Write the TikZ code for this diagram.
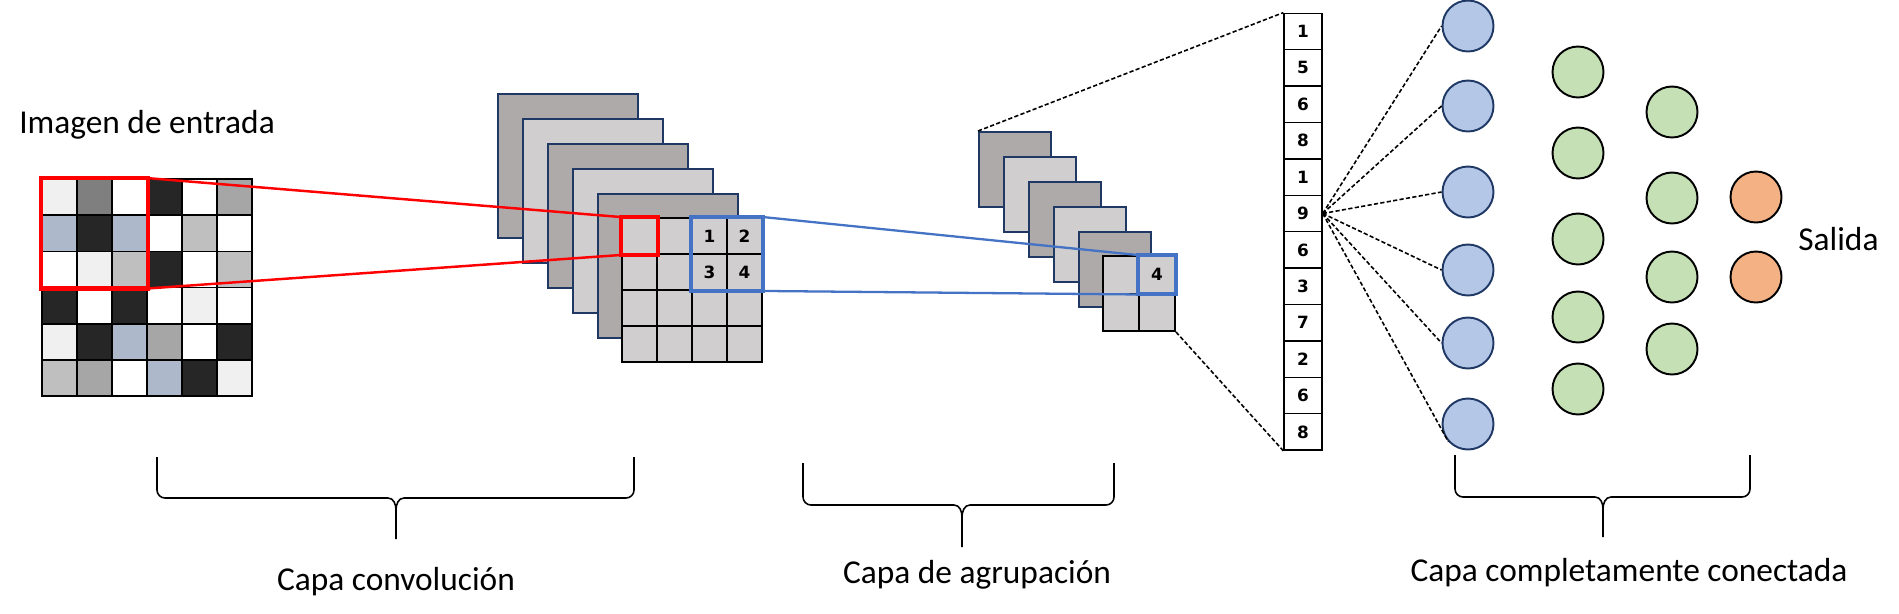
\documentclass[tikz,border=0pt]{standalone}
\usepackage{fontspec}
\setmainfont{Carlito}
\newfontfamily\digitfont{DejaVu Sans}

\definecolor{pixL}{HTML}{F0F0F0}
\definecolor{pixG}{HTML}{7F7F7F}
\definecolor{pixW}{HTML}{FFFFFF}
\definecolor{pixD}{HTML}{262626}
\definecolor{pixM}{HTML}{A6A6A6}
\definecolor{pixS}{HTML}{BFBFBF}
\definecolor{pixB}{HTML}{ADB9CA}
\definecolor{mapdark}{HTML}{AEAAAA}
\definecolor{maplight}{HTML}{D0CECE}
\definecolor{mapline}{HTML}{1F3864}
\definecolor{boxred}{HTML}{FF0000}
\definecolor{boxblue}{HTML}{4472C4}
\definecolor{nblue}{HTML}{B4C7E7}
\definecolor{ngreen}{HTML}{C5E0B4}
\definecolor{norange}{HTML}{F4B183}

\begin{document}
\begin{tikzpicture}[x=0.02cm, y=-0.02cm]
		
		% Define basic styles
		\tikzset{
			txt/.style={font=\fontsize{19}{23}\selectfont, inner sep=0pt, anchor=base},
			digit/.style={font=\digitfont\bfseries\fontsize{9.6}{11}\selectfont, inner sep=0pt},
			pixel/.style={
				rectangle, draw=black, line width=1pt, inner sep=0pt,
				minimum width=0.7cm, minimum height=0.724cm
			},
			fmap/.style={
				rectangle, draw=mapline, line width=1.2pt, inner sep=0pt, anchor=north west,
				minimum width=2.8cm, minimum height=2.88cm
			},
			pmap/.style={fmap, minimum width=1.44cm, minimum height=1.5cm},
			cvcell/.style={
				rectangle, draw=black, line width=1.1pt, fill=maplight, inner sep=0pt,
				minimum width=0.7cm, minimum height=0.72cm
			},
			plcell/.style={cvcell, minimum width=0.72cm, minimum height=0.75cm},
			veccell/.style={
				rectangle, draw=black, line width=0.8pt, fill=white, inner sep=0pt,
				minimum width=0.76cm, minimum height=0.728cm, digit
			},
			neuron/.style={circle, draw=black, line width=1.1pt, minimum size=1.02cm, inner sep=0pt},
			redbox/.style={draw=boxred, line width=2.5pt},
			redline/.style={draw=boxred, line width=1.4pt},
			bluebox/.style={draw=boxblue, line width=2.3pt},
			blueline/.style={draw=boxblue, line width=1.3pt},
			link/.style={line width=0.9pt, dash pattern=on 2.4pt off 1.3pt},
			bracket/.style={line width=0.9pt}
		}
		
		\useasboundingbox (0,0) rectangle (1899,613);
		
		% Input image
		\node[txt] (lbl-input) at (147,133) {Imagen de entrada};
		\foreach \rowcols [count=\r] in {{pixL,pixG,pixW,pixD,pixW,pixM},{pixB,pixD,pixB,pixW,pixS,pixW},{pixW,pixL,pixS,pixD,pixW,pixS},{pixD,pixW,pixD,pixW,pixL,pixW},{pixL,pixD,pixB,pixM,pixW,pixD},{pixS,pixM,pixW,pixB,pixD,pixL}}{
			\foreach \col [count=\c] in \rowcols
				\node[pixel, fill=\col] (in-\r-\c) at ({42+35*(\c-0.5)},{179+36.2*(\r-0.5)}) {};
		}
		
		% Convolution layer
		\foreach \k/\f in {0/mapdark,1/maplight,2/mapdark,3/maplight,4/mapdark}
			\node[fmap, fill=\f] (cv-l\k) at ({497+25*\k},{93+25*\k}) {};
		\foreach \r in {1,...,4}
			\foreach \c in {1,...,4}
				\node[cvcell] (cv-\r-\c) at ({622+35*(\c-0.5)},{218+36*(\r-0.5)}) {};
		\foreach \r/\c/\v in {1/3/1,1/4/2,2/3/3,2/4/4}
			\node[digit] (cv-num\v) at (cv-\r-\c) {\v};
		
		% Pooling layer
		\foreach \k/\f in {0/mapdark,1/maplight,2/mapdark,3/maplight,4/mapdark}
			\node[pmap, fill=\f] (pl-l\k) at ({978+25*\k},{131+25*\k}) {};
		\foreach \r in {1,2}
			\foreach \c in {1,2}
				\node[plcell] (pl-\r-\c) at ({1103+36*(\c-0.5)},{256+37.5*(\r-0.5)}) {};
		\node[digit] (pl-num4) at (pl-1-2) {4};
		
		% Flattened vector
		\foreach \v [count=\i] in {1,5,6,8,1,9,6,3,7,2,6,8}
			\node[veccell] (vec-\i) at (1303,{13.3+36.4*(\i-0.5)}) {\v};
		
		% Fully connected layers
		\foreach \y [count=\i] in {26,106,192,270,343,424}
			\node[neuron, fill=nblue, draw=mapline] (fc1-\i) at (1468,\y) {};
		\foreach \y [count=\i] in {72,153,239,317,389}
			\node[neuron, fill=ngreen] (fc2-\i) at (1578,\y) {};
		\foreach \y [count=\i] in {112,198,277,349}
			\node[neuron, fill=ngreen] (fc3-\i) at (1672,\y) {};
		\foreach \y [count=\i] in {197,277}
			\node[neuron, fill=norange] (out-\i) at (1756,\y) {};
		\node[txt, anchor=base west] (lbl-output) at (1798,250) {Salida};
		
		% Windows and connectors
		\draw[redbox] (in-1-1.north west) rectangle (in-3-3.south east);
		\draw[redbox] (cv-1-1.north west) rectangle (cv-1-1.south east);
		\draw[redline] (in-1-3.north east) -- (cv-1-1.north west);
		\draw[redline] (in-3-3.south east) -- (cv-1-1.south west);
		\draw[bluebox] (cv-1-3.north west) rectangle (cv-2-4.south east);
		\draw[bluebox] (pl-1-2.north west) rectangle (pl-1-2.south east);
		\draw[blueline] (cv-1-4.north east) -- (pl-1-2.north west);
		\draw[blueline] (cv-2-4.south east) -- (pl-1-2.south west);
		\draw[link] (pl-l0.north west) -- (vec-1.north west);
		\draw[link] (pl-2-2.south east) -- (vec-12.south west);
		\foreach \i in {1,...,5}
			\draw[link] (vec-6.east) -- (fc1-\i.west);
		\draw[link] (vec-6.east) -- (fc1-6.222);
		
		% Braces
		\foreach \xl/\xr/\xm/\yt/\ym/\yb in {157/634/396/457/498/539,803/1114/962/463/505/547,1455/1750/1603/455/497/537}
			\draw[bracket] (\xl,\yt) -- (\xl,{\ym-8}) to[out=-90,in=180] ({\xl+8},\ym) -- ({\xm-8},\ym)
				to[out=0,in=90] (\xm,{\ym+12}) -- (\xm,\yb) (\xm,{\ym+12}) to[out=90,in=180] ({\xm+8},\ym)
				-- ({\xr-8},\ym) to[out=0,in=-90] (\xr,{\ym-8}) -- (\xr,\yt);
		\node[txt] (lbl-conv) at (396,590) {Capa convolución};
		\node[txt] (lbl-pool) at (977,583) {Capa de agrupación};
		\node[txt] (lbl-fc) at (1629,581) {Capa completamente conectada};
		
	\end{tikzpicture}
\end{document}
